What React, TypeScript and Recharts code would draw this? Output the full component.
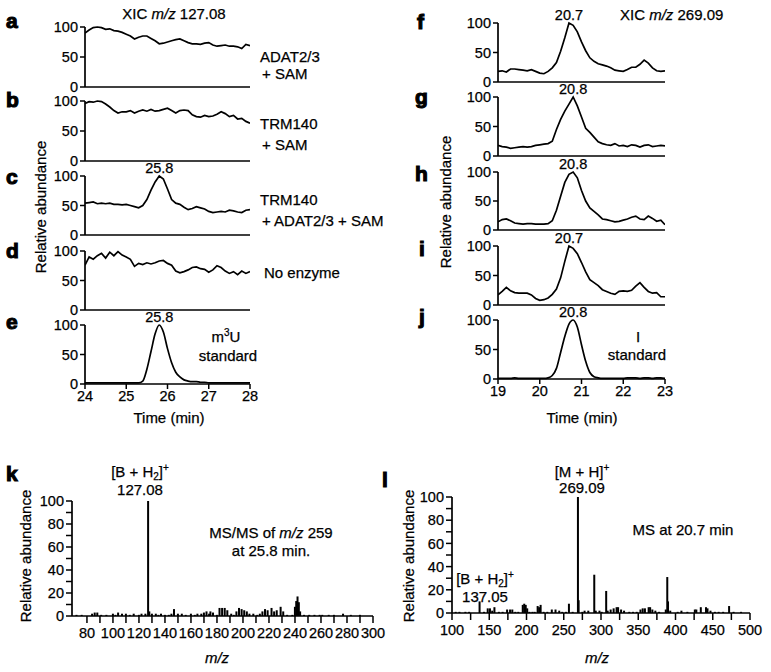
import React from 'react';
import { LineChart, Line, XAxis, YAxis, ReferenceDot, BarChart, Bar } from 'recharts';

const FONT = '"Liberation Sans", Arial, Helvetica, sans-serif';

// Time axes (min)
const TIME_LEFT = [24.0, 24.1, 24.2, 24.3, 24.4, 24.5, 24.6, 24.7, 24.8, 24.9, 25.0, 25.1, 25.2, 25.3, 25.4, 25.5, 25.6, 25.7, 25.8, 25.9, 26.0, 26.1, 26.2, 26.3, 26.4, 26.5, 26.6, 26.7, 26.8, 26.9, 27.0, 27.1, 27.2, 27.3, 27.4, 27.5, 27.6, 27.7, 27.8, 27.9, 28.0];
const TIME_RIGHT = [19.0, 19.1, 19.2, 19.3, 19.4, 19.5, 19.6, 19.7, 19.8, 19.9, 20.0, 20.1, 20.2, 20.3, 20.4, 20.5, 20.6, 20.7, 20.8, 20.9, 21.0, 21.1, 21.2, 21.3, 21.4, 21.5, 21.6, 21.7, 21.8, 21.9, 22.0, 22.1, 22.2, 22.3, 22.4, 22.5, 22.6, 22.7, 22.8, 22.9, 23.0];
const TICKS_LEFT = [24, 25, 26, 27, 28];
const TICKS_RIGHT = [19, 20, 21, 22, 23];

// XIC m/z 127.08 traces (relative abundance)
const TRACE_A = [90, 95, 99, 100, 99, 96, 97, 94, 93, 91, 88, 85, 80, 83, 85, 85, 81, 77, 72, 73, 75, 77, 79, 80, 77, 74, 72, 72, 71, 73, 74, 70, 68, 69, 70, 68, 68, 67, 64, 71, 69];
const TRACE_B = [96, 99, 98, 100, 99, 95, 90, 84, 80, 82, 82, 84, 80, 83, 85, 83, 86, 83, 84, 86, 88, 84, 80, 84, 85, 84, 77, 74, 73, 76, 74, 75, 78, 82, 79, 74, 76, 70, 71, 66, 63];
const TRACE_C = [54, 55, 56, 53, 54, 53, 54, 52, 52, 51, 52, 50, 48, 46, 50, 60, 76, 90, 100, 95, 78, 60, 54, 52, 47, 43, 45, 48, 46, 44, 40, 38, 39, 40, 39, 42, 41, 39, 38, 42, 43];
const TRACE_D = [76, 90, 86, 92, 96, 88, 98, 92, 99, 93, 90, 86, 74, 79, 77, 80, 78, 80, 83, 84, 79, 76, 66, 63, 65, 68, 72, 73, 70, 69, 64, 68, 75, 72, 66, 62, 65, 60, 66, 62, 65];
const TRACE_E = [2, 2, 2, 2, 2, 2, 2, 2, 2, 2, 2, 2, 2, 2, 5, 25, 55, 85, 100, 88, 60, 36, 20, 12, 7, 5, 4, 4, 3, 3, 2, 2, 2, 2, 2, 2, 2, 2, 2, 2, 2];

// XIC m/z 269.09 traces
const TRACE_F = [18, 19, 17, 22, 22, 21, 20, 19, 21, 18, 15, 14, 18, 24, 33, 52, 75, 100, 96, 85, 68, 53, 41, 35, 31, 29, 27, 24, 20, 19, 18, 21, 25, 25, 30, 37, 32, 24, 19, 18, 19];
const TRACE_G = [18, 16, 15, 13, 14, 15, 16, 15, 16, 18, 19, 20, 21, 25, 45, 62, 76, 88, 100, 85, 66, 47, 40, 32, 24, 21, 19, 18, 21, 17, 18, 16, 19, 18, 15, 18, 19, 16, 17, 18, 17];
const TRACE_H = [14, 18, 19, 16, 12, 11, 10, 11, 11, 10, 10, 10, 11, 16, 34, 58, 82, 96, 100, 90, 68, 50, 38, 32, 26, 19, 18, 16, 14, 15, 17, 19, 22, 24, 19, 18, 24, 20, 15, 17, 9];
const TRACE_I = [17, 23, 30, 24, 21, 20, 20, 20, 17, 11, 8, 9, 12, 18, 27, 46, 74, 100, 96, 87, 72, 56, 43, 38, 33, 26, 23, 20, 18, 23, 24, 23, 25, 32, 38, 30, 23, 20, 21, 14, 14];
const TRACE_J = [1, 1, 1, 1, 2, 1, 1, 1, 1, 1, 1, 1, 2, 6, 18, 45, 72, 93, 100, 88, 58, 30, 11, 4, 2, 1, 1, 1, 1, 1, 1, 2, 2, 2, 1, 2, 2, 1, 2, 2, 1];

// MS/MS of m/z 259 at 25.8 min: [m/z, relative abundance]
const SPEC_K: [number, number][] = [
  [72, 1], [76, 1], [84, 2], [86, 3], [88, 3], [91, 1], [95, 1], [100, 2], [102, 1], [104, 3], [107, 2], [110, 2], [113, 1], [116, 2], [120, 1], [122, 2], [125, 2],
  [127.08, 100], [128, 4], [130, 2], [133, 2], [135, 1], [137, 2], [140, 1], [143, 1], [145, 2], [147, 6], [150, 2], [153, 2], [156, 1], [160, 2], [163, 1], [165, 2],
  [168, 2], [170, 3], [172, 4], [174, 2], [175, 4], [177, 3], [180, 1], [182, 7], [184, 7], [186, 7], [188, 5], [191, 2], [193, 1], [195, 4], [197, 7], [199, 6],
  [201, 5], [203, 4], [205, 2], [208, 2], [211, 1], [213, 2], [215, 4], [217, 6], [219, 5], [222, 7], [224, 4], [226, 5], [229, 8], [231, 4], [234, 1], [238, 1],
  [240, 8], [241, 13], [242, 17], [243, 12], [244, 4], [247, 1], [251, 1], [255, 1], [259, 1], [261, 1], [266, 1], [270, 1], [277, 2], [283, 1], [290, 1],
];

// MS at 20.7 min
const SPEC_L: [number, number][] = [
  [105, 1], [110, 1], [118, 1], [123, 1], [137.05, 10], [143, 1], [148, 4], [151, 4], [154, 2], [157, 5], [163, 1], [168, 1], [174, 3], [178, 3], [181, 3],
  [185, 1], [189, 1], [195, 7], [197, 8], [199, 7], [201, 4], [204, 1], [208, 1], [211, 1], [215, 6], [217, 5], [219, 7], [223, 1], [228, 1], [234, 3], [239, 3],
  [244, 2], [248, 1], [253, 1], [257, 8], [262, 1], [269.09, 100], [270, 11], [275, 1], [278, 2], [283, 2], [291, 33], [293, 2], [298, 2], [301, 1], [307, 19],
  [309, 2], [313, 3], [317, 4], [321, 5], [323, 5], [327, 3], [331, 2], [338, 1], [343, 1], [348, 1], [353, 3], [356, 4], [359, 4], [364, 5], [366, 5], [369, 3],
  [373, 2], [378, 1], [387, 3], [389, 31], [390, 10], [393, 2], [403, 1], [408, 2], [416, 1], [426, 3], [428, 3], [434, 5], [441, 5], [443, 4], [447, 2], [453, 1],
  [458, 1], [464, 1], [472, 6], [478, 1], [488, 1],
];

const K_XTICKS = [80, 90, 100, 110, 120, 130, 140, 150, 160, 170, 180, 190, 200, 210, 220, 230, 240, 250, 260, 270, 280, 290, 300];
const L_XTICKS = [100, 125, 150, 175, 200, 225, 250, 275, 300, 325, 350, 375, 400, 425, 450, 475, 500];
const SPEC_YTICKS = [0, 10, 20, 30, 40, 50, 60, 70, 80, 90, 100];

type Rect = { x0: number; x1: number; y0: number; y1: number };

const AXIS_LINE = { stroke: '#000', strokeWidth: 1.7 };
const TICK_LINE = { stroke: '#000', strokeWidth: 1.5 };
const TICK_TEXT = { fontSize: 14.5, fill: '#000', fontFamily: FONT, stroke: '#000', strokeWidth: 0.25 };

function Xic(props: {
  times: number[]; values: number[]; rect: Rect; domain: [number, number];
  xTicks?: number[]; peak?: { t: number; label: string }; smooth?: boolean;
}) {
  const { times, values, rect, domain, xTicks, peak, smooth } = props;
  const data = times.map((t, i) => ({ t, v: values[i] }));
  const padL = 60, padT = 24, padR = 14, padB = xTicks ? 34 : 12;
  const w = rect.x1 - rect.x0 + padL + padR;
  const h = rect.y1 - rect.y0 + padT + padB;
  return (
    <div style={{ position: 'absolute', left: rect.x0 - padL, top: rect.y0 - padT }}>
      <LineChart width={w} height={h} data={data} margin={{ top: padT, right: padR, bottom: 0, left: 0 }}>
        <XAxis type="number" dataKey="t" domain={domain} ticks={xTicks ?? []} height={padB} interval={0}
          axisLine={AXIS_LINE} tickLine={xTicks ? TICK_LINE : false} tick={xTicks ? TICK_TEXT : false}
          tickSize={5} tickMargin={2} allowDataOverflow />
        <YAxis type="number" domain={[0, 100]} ticks={[0, 50, 100]} width={padL} interval={0}
          axisLine={AXIS_LINE} tickLine={TICK_LINE} tick={TICK_TEXT} tickSize={5} tickMargin={2} />
        <Line type={smooth ? 'monotone' : 'linear'} dataKey="v" stroke="#000" strokeWidth={1.7} dot={false}
          isAnimationActive={false} />
        {peak && (
          <ReferenceDot x={peak.t} y={100} r={1} fill="none" stroke="none" ifOverflow="visible"
            label={{ value: peak.label, position: 'top', offset: 2, fontSize: 14.5, fill: '#000', fontFamily: FONT, stroke: '#000', strokeWidth: 0.25 }} />
        )}
      </LineChart>
    </div>
  );
}

function Stick(p: any) {
  const { x, y, width, height } = p;
  if (height == null || !(height > 0)) return null;
  return <rect x={x + width / 2 - 1} y={y} width={2} height={height} fill="#000" />;
}

function Spectrum(props: { peaks: [number, number][]; rect: Rect; domain: [number, number]; xTicks: number[]; labelEvery: number }) {
  const { peaks, rect, domain, xTicks, labelEvery } = props;
  const data = peaks.map(([mz, ab]) => ({ mz, ab }));
  const padL = 60, padT = 10, padR = 20, padB = 34;
  const w = rect.x1 - rect.x0 + padL + padR;
  const h = rect.y1 - rect.y0 + padT + padB;
  return (
    <div style={{ position: 'absolute', left: rect.x0 - padL, top: rect.y0 - padT }}>
      <BarChart width={w} height={h} data={data} margin={{ top: padT, right: padR, bottom: 0, left: 0 }} barGap={0}>
        <XAxis type="number" dataKey="mz" domain={domain} ticks={xTicks} height={padB} interval={0}
          axisLine={AXIS_LINE} tickLine={TICK_LINE} tick={TICK_TEXT} tickSize={7} tickMargin={5}
          tickFormatter={(v: number) => (v % labelEvery === 0 ? String(v) : '')} allowDataOverflow />
        <YAxis type="number" domain={[0, 100]} ticks={SPEC_YTICKS} width={padL} interval={0}
          axisLine={AXIS_LINE} tickLine={TICK_LINE} tick={TICK_TEXT} tickSize={6} tickMargin={2}
          tickFormatter={(v: number) => (v % 20 === 0 ? String(v) : '')} />
        <Bar dataKey="ab" fill="#000" barSize={2} shape={<Stick />} isAnimationActive={false} />
      </BarChart>
    </div>
  );
}

const L = { x0: 85, x1: 250 };
const R = { x0: 498, x1: 665 };

function T(props: { x: number; y: number; anchor?: 'start' | 'middle' | 'end'; size?: number; children: React.ReactNode; heavy?: boolean }) {
  return (
    <text x={props.x} y={props.y} textAnchor={props.anchor ?? 'start'} fontSize={props.size ?? 15}
      fontWeight={props.heavy ? 900 : 400} fill="#000" stroke="#000" strokeWidth={props.heavy ? 1.1 : 0.25}
      fontFamily={FONT}>{props.children}</text>
  );
}

export default function App() {
  return (
    <div style={{ position: 'absolute', left: 0, top: 0, width: 771, height: 672, background: '#fff', overflow: 'hidden' }}>
      <Xic times={TIME_LEFT} values={TRACE_A} rect={{ ...L, y0: 27, y1: 87 }} domain={[24, 28]} />
      <Xic times={TIME_LEFT} values={TRACE_B} rect={{ ...L, y0: 101, y1: 161 }} domain={[24, 28]} />
      <Xic times={TIME_LEFT} values={TRACE_C} rect={{ ...L, y0: 176, y1: 235 }} domain={[24, 28]} peak={{ t: 25.8, label: '25.8' }} />
      <Xic times={TIME_LEFT} values={TRACE_D} rect={{ ...L, y0: 251, y1: 310 }} domain={[24, 28]} />
      <Xic times={TIME_LEFT} values={TRACE_E} rect={{ ...L, y0: 325, y1: 384 }} domain={[24, 28]} xTicks={TICKS_LEFT} peak={{ t: 25.8, label: '25.8' }} smooth />

      <Xic times={TIME_RIGHT} values={TRACE_F} rect={{ ...R, y0: 23, y1: 82 }} domain={[19, 23]} peak={{ t: 20.7, label: '20.7' }} />
      <Xic times={TIME_RIGHT} values={TRACE_G} rect={{ ...R, y0: 97, y1: 156 }} domain={[19, 23]} peak={{ t: 20.8, label: '20.8' }} />
      <Xic times={TIME_RIGHT} values={TRACE_H} rect={{ ...R, y0: 172, y1: 230 }} domain={[19, 23]} peak={{ t: 20.8, label: '20.8' }} />
      <Xic times={TIME_RIGHT} values={TRACE_I} rect={{ ...R, y0: 246, y1: 305 }} domain={[19, 23]} peak={{ t: 20.7, label: '20.7' }} />
      <Xic times={TIME_RIGHT} values={TRACE_J} rect={{ ...R, y0: 320, y1: 379 }} domain={[19, 23]} xTicks={TICKS_RIGHT} peak={{ t: 20.8, label: '20.8' }} smooth />

      <Spectrum peaks={SPEC_K} rect={{ x0: 72, x1: 373, y0: 501, y1: 616 }} domain={[68.5, 300]} xTicks={K_XTICKS} labelEvery={20} />
      <Spectrum peaks={SPEC_L} rect={{ x0: 452, x1: 750, y0: 497, y1: 613 }} domain={[100, 500]} xTicks={L_XTICKS} labelEvery={50} />

      <svg width={771} height={672} style={{ position: 'absolute', left: 0, top: 0, pointerEvents: 'none' }}>
        {/* panel letters */}
        <T x={6} y={28} size={21} heavy>a</T>
        <T x={6} y={107} size={21} heavy>b</T>
        <T x={6} y={184} size={21} heavy>c</T>
        <T x={6} y={258} size={21} heavy>d</T>
        <T x={6} y={329} size={21} heavy>e</T>
        <T x={417} y={29} size={21} heavy>f</T>
        <T x={415} y={104} size={21} heavy>g</T>
        <T x={415} y={181} size={21} heavy>h</T>
        <T x={419} y={256} size={21} heavy>i</T>
        <T x={419} y={324} size={21} heavy>j</T>
        <T x={6} y={481} size={21} heavy>k</T>
        <T x={382} y={487} size={21} heavy>l</T>

        {/* titles */}
        <T x={174} y={19} anchor="middle">XIC <tspan fontStyle="italic">m/z</tspan> 127.08</T>
        <T x={620} y={20}>XIC <tspan fontStyle="italic">m/z</tspan> 269.09</T>

        {/* sample labels */}
        <T x={260} y={62}>ADAT2/3</T>
        <T x={262} y={79}>+ SAM</T>
        <T x={260} y={129}>TRM140</T>
        <T x={262} y={150}>+ SAM</T>
        <T x={260} y={205}>TRM140</T>
        <T x={262} y={226}>+ ADAT2/3 + SAM</T>
        <T x={264} y={278}>No enzyme</T>
        <T x={226} y={342} anchor="middle">m<tspan fontSize={10} dy={-6}>3</tspan><tspan dy={6}>U</tspan></T>
        <T x={228} y={361} anchor="middle">standard</T>
        <T x={638} y={342} anchor="middle">I</T>
        <T x={637} y={360} anchor="middle">standard</T>

        {/* axis titles */}
        <g transform="translate(46 207) rotate(-90)"><T x={0} y={0} anchor="middle">Relative abundance</T></g>
        <g transform="translate(451 202) rotate(-90)"><T x={0} y={0} anchor="middle">Relative abundance</T></g>
        <g transform="translate(31 556) rotate(-90)"><T x={0} y={0} anchor="middle">Relative abundance</T></g>
        <g transform="translate(414 556) rotate(-90)"><T x={0} y={0} anchor="middle">Relative abundance</T></g>
        <T x={169} y={423} anchor="middle">Time (min)</T>
        <T x={582} y={423} anchor="middle">Time (min)</T>
        <T x={217} y={663} anchor="middle"><tspan fontStyle="italic">m/z</tspan></T>
        <T x={597} y={663} anchor="middle"><tspan fontStyle="italic">m/z</tspan></T>

        {/* spectrum annotations */}
        <T x={140} y={477} anchor="middle">[B + H<tspan fontSize={10} dy={3}>2</tspan><tspan dy={-3}>]</tspan><tspan fontSize={10} dy={-6}>+</tspan></T>
        <T x={140} y={495} anchor="middle">127.08</T>
        <T x={271} y={538} anchor="middle">MS/MS of <tspan fontStyle="italic">m/z</tspan> 259</T>
        <T x={271} y={556} anchor="middle">at 25.8 min.</T>
        <T x={582} y={477} anchor="middle">[M + H]<tspan fontSize={10} dy={-6}>+</tspan></T>
        <T x={582} y={493} anchor="middle">269.09</T>
        <T x={683} y={535} anchor="middle">MS at 20.7 min</T>
        <T x={485} y={584} anchor="middle">[B + H<tspan fontSize={10} dy={3}>2</tspan><tspan dy={-3}>]</tspan><tspan fontSize={10} dy={-6}>+</tspan></T>
        <T x={485} y={602} anchor="middle">137.05</T>
      </svg>
    </div>
  );
}
